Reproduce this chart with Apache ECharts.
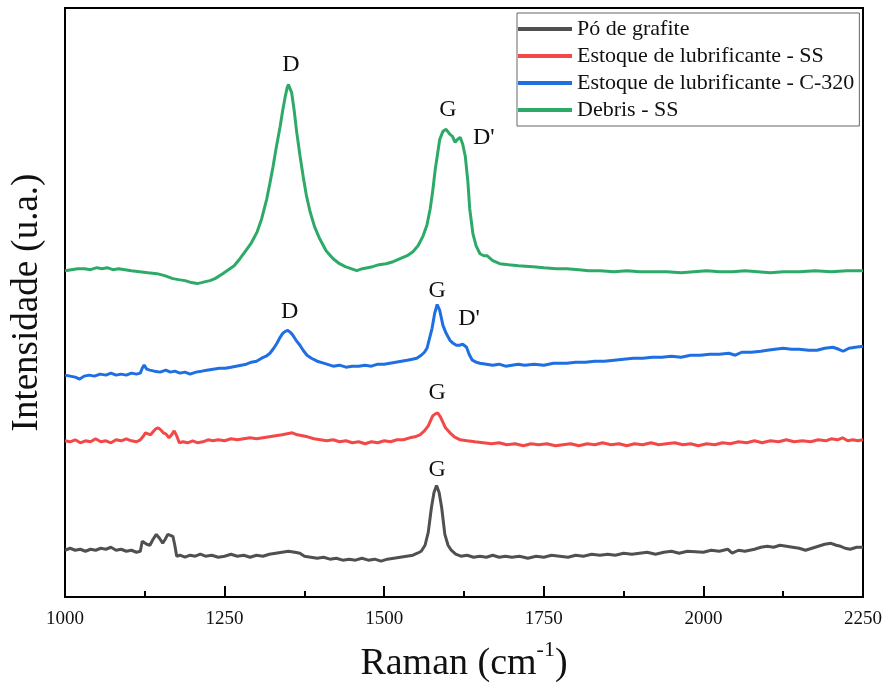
<!DOCTYPE html>
<html>
<head>
<meta charset="utf-8">
<script src="https://cdn.jsdelivr.net/npm/echarts@6/dist/echarts.min.js"></script>
<style>
  html, body { margin: 0; padding: 0; background: #fff; }
  #chart { width: 889px; height: 688px; }
</style>
</head>
<body>
<div id="chart"></div>
<script>
// Raman spectra: [Raman shift (cm-1), intensity (a.u., stacked offsets)]
const seriesNames = [
  'Pó de grafite',
  'Estoque de lubrificante - SS',
  'Estoque de lubrificante - C-320',
  'Debris - SS'
];
const seriesColors = ['#505050', '#f24848', '#1f6fe2', '#2eaa68'];

const poGrafite = [
  [1000,47],[1008,49],[1016,47],[1024,48],[1032,46],[1040,48],[1048,47],[1056,49],[1064,48],[1072,50],
  [1080,47],[1088,48],[1096,46],[1104,47],[1112,45],[1118,46],[1121,56],[1124,54],[1128,53],[1133,52],
  [1138,58],[1143,63],[1148,59],[1153,54],[1157,58],[1161,63],[1165,62],[1169,61],[1172,52],[1175,41],
  [1180,42],[1188,40],[1196,42],[1204,41],[1212,43],[1220,41],[1230,42],[1240,40],[1250,41],[1260,43],
  [1270,41],[1280,42],[1290,40],[1300,42],[1310,41],[1320,43],[1330,44],[1340,45],[1350,46],[1360,45],
  [1368,44],[1375,41],[1385,40],[1395,39],[1405,40],[1415,38],[1425,39],[1435,37],[1445,38],[1455,37],
  [1465,39],[1475,37],[1485,38],[1495,36],[1505,38],[1515,39],[1525,40],[1535,41],[1545,42],[1552,44],
  [1558,46],[1564,52],[1569,65],[1574,90],[1578,105],[1582,112],[1586,105],[1590,90],[1595,63],[1600,52],
  [1605,47],[1612,43],[1620,41],[1630,42],[1640,40],[1650,41],[1660,40],[1670,42],[1680,40],[1690,41],
  [1700,40],[1712,41],[1725,39],[1738,41],[1750,40],[1762,42],[1775,41],[1788,40],[1800,42],[1812,41],
  [1825,43],[1838,42],[1850,43],[1862,42],[1875,44],[1888,43],[1900,44],[1912,45],[1925,43],[1938,45],
  [1950,46],[1962,44],[1975,46],[2000,45],[2012,47],[2025,46],[2038,48],[2045,44],[2055,47],[2065,46],
  [2080,48],[2090,50],[2100,51],[2110,50],[2120,52],[2130,51],[2140,50],[2150,49],[2160,47],[2170,49],
  [2180,51],[2190,53],[2200,54],[2208,52],[2215,51],[2222,49],[2230,48],[2240,50],[2250,50]
];

const estoqueSS = [
  [1000,157],[1008,156],[1016,158],[1024,155],[1032,157],[1040,156],[1048,159],[1056,156],[1064,157],[1072,155],
  [1080,158],[1088,157],[1096,159],[1104,157],[1112,156],[1118,158],[1122,161],[1126,165],[1130,164],[1134,163],
  [1138,166],[1142,169],[1146,170],[1150,168],[1154,165],[1158,164],[1163,160],[1167,163],[1171,167],[1175,162],
  [1179,155],[1185,156],[1192,155],[1200,157],[1208,155],[1216,156],[1224,158],[1232,157],[1240,158],[1250,157],
  [1260,159],[1270,158],[1280,159],[1290,160],[1300,159],[1310,160],[1320,161],[1330,162],[1340,163],[1348,164],
  [1356,165],[1364,163],[1372,162],[1380,161],[1390,159],[1400,158],[1410,157],[1420,158],[1430,156],[1440,157],
  [1450,155],[1460,156],[1470,154],[1480,156],[1490,155],[1500,157],[1510,156],[1520,158],[1530,158],[1540,160],
  [1548,161],[1556,163],[1563,167],[1569,172],[1576,182],[1580,184],[1584,185],[1588,181],[1591,177],[1596,170],
  [1603,165],[1610,161],[1619,158],[1630,157],[1642,156],[1655,155],[1668,154],[1680,155],[1692,153],[1705,154],
  [1718,152],[1730,154],[1742,153],[1755,154],[1768,152],[1780,153],[1792,154],[1805,152],[1818,154],[1830,153],
  [1842,155],[1855,153],[1868,154],[1880,152],[1892,154],[1905,153],[1918,155],[1930,153],[1942,154],[1955,155],
  [1968,153],[1980,154],[1992,152],[2005,154],[2018,153],[2030,155],[2042,154],[2055,156],[2068,155],[2080,157],
  [2092,155],[2105,157],[2118,156],[2130,158],[2142,156],[2155,157],[2168,156],[2180,158],[2192,157],[2200,159],
  [2210,158],[2218,160],[2226,157],[2234,158],[2242,157],[2250,158]
];

const estoqueC320 = [
  [1000,223],[1008,222],[1016,221],[1023,219],[1030,222],[1038,223],[1046,222],[1055,224],[1064,223],[1072,225],
  [1080,223],[1088,224],[1096,223],[1104,225],[1112,224],[1118,225],[1121,230],[1124,233],[1128,229],[1133,228],
  [1140,227],[1149,226],[1158,228],[1165,226],[1172,227],[1180,225],[1188,226],[1196,224],[1205,226],[1214,227],
  [1222,228],[1232,229],[1242,230],[1251,230],[1260,231],[1268,232],[1276,233],[1284,234],[1292,236],[1300,237],
  [1308,240],[1315,242],[1321,245],[1327,250],[1332,255],[1337,261],[1341,265],[1345,267],[1349,268],[1353,266],
  [1357,263],[1362,258],[1368,253],[1373,248],[1379,243],[1386,240],[1395,237],[1405,235],[1420,232],[1430,233],
  [1440,231],[1450,232],[1460,232],[1470,233],[1480,232],[1490,234],[1500,234],[1509,235],[1518,236],[1527,237],
  [1536,238],[1544,239],[1551,240],[1558,243],[1563,246],[1567,250],[1571,260],[1575,270],[1579,285],[1583,294],
  [1587,288],[1592,273],[1597,265],[1603,258],[1608,255],[1613,253],[1618,253],[1623,254],[1626,254],[1629,251],
  [1633,244],[1638,238],[1644,236],[1650,235],[1660,234],[1670,233],[1680,234],[1690,232],[1700,233],[1710,234],
  [1720,233],[1735,234],[1750,233],[1765,235],[1786,235],[1800,236],[1815,236],[1830,237],[1845,237],[1860,238],
  [1875,239],[1890,240],[1905,240],[1920,241],[1935,241],[1950,242],[1965,241],[1980,243],[1995,243],[2010,244],
  [2025,244],[2040,245],[2050,243],[2060,246],[2075,246],[2090,247],[2100,248],[2112,249],[2125,250],[2138,249],
  [2150,249],[2165,248],[2178,248],[2190,250],[2203,251],[2212,249],[2219,247],[2228,250],[2238,251],[2250,252]
];

const debrisSS = [
  [1000,328],[1010,329],[1020,330],[1031,330],[1040,329],[1050,331],[1058,330],[1066,331],[1075,329],[1084,330],
  [1094,329],[1104,328],[1117,327],[1130,326],[1144,325],[1156,323],[1169,320],[1178,319],[1188,318],[1198,316],
  [1207,315],[1214,316],[1220,317],[1227,318],[1235,320],[1247,325],[1256,329],[1265,333],[1274,340],[1283,348],
  [1292,356],[1301,367],[1308,380],[1316,400],[1321,416],[1326,433],[1331,452],[1337,473],[1341,489],[1345,503],
  [1348,512],[1350,515],[1352,513],[1355,507],[1359,489],[1363,467],[1368,444],[1373,423],[1378,404],[1384,387],
  [1391,372],[1399,360],[1409,348],[1420,340],[1430,335],[1439,332],[1448,330],[1457,328],[1466,330],[1474,331],
  [1482,332],[1492,334],[1503,335],[1514,337],[1525,340],[1536,343],[1545,347],[1553,353],[1561,363],[1567,374],
  [1572,390],[1576,408],[1580,430],[1584,447],[1587,460],[1592,468],[1597,470],[1603,465],[1607,463],[1611,457],
  [1615,460],[1619,462],[1623,455],[1627,443],[1631,418],[1634,390],[1639,365],[1644,353],[1650,345],[1656,343],
  [1661,343],[1670,338],[1681,335],[1695,334],[1710,333],[1733,332],[1750,331],[1770,330],[1786,330],[1805,329],
  [1820,328],[1838,328],[1860,327],[1880,328],[1900,327],[1920,327],[1943,327],[1965,326],[1985,327],[2005,328],
  [2025,327],[2046,327],[2065,328],[2085,327],[2105,326],[2125,327],[2151,327],[2175,328],[2200,327],[2225,328],
  [2250,328]
];

// Band labels per series: [text, Raman shift, intensity]
const bandsPoGrafite = [['G', 1583, 128]];
const bandsEstoqueSS = [['G', 1583, 205]];
const bandsEstoqueC320 = [['D', 1352, 287], ['G', 1583, 308], ["D'", 1633, 280]];
const bandsDebrisSS = [['D', 1354, 535], ['G', 1600, 490], ["D'", 1656, 462]];

const xTicks = { min: 1000, max: 2250, interval: 250 };

const serif = 'Liberation Serif, Times New Roman, serif';
const allData = [poGrafite, estoqueSS, estoqueC320, debrisSS];
const allBands = [bandsPoGrafite, bandsEstoqueSS, bandsEstoqueC320, bandsDebrisSS];

const chart = echarts.init(document.getElementById('chart'), null, { renderer: 'canvas' });

chart.setOption({
  animation: false,
  backgroundColor: '#fff',
  grid: {
    left: 65, right: 26, top: 8, bottom: 88,
    show: true, borderColor: '#000', borderWidth: 2, backgroundColor: 'transparent'
  },
  legend: {
    data: seriesNames,
    orient: 'vertical',
    left: 517, top: 13,
    padding: [5, 5, 5, 1],
    itemGap: 5,
    itemWidth: 54, itemHeight: 4,
    icon: 'rect',
    borderColor: '#666', borderWidth: 1,
    backgroundColor: '#fff',
    textStyle: { fontFamily: serif, fontSize: 22, color: '#111', lineHeight: 22 }
  },
  xAxis: {
    type: 'value',
    min: xTicks.min, max: xTicks.max, interval: xTicks.interval,
    name: '{a|Raman (cm}{s|-1}{a|)}',
    nameLocation: 'middle',
    nameGap: 42,
    nameTextStyle: {
      rich: {
        a: { fontFamily: serif, fontSize: 38, color: '#111', verticalAlign: 'bottom', lineHeight: 44 },
        s: { fontFamily: serif, fontSize: 22, color: '#111', verticalAlign: 'top', lineHeight: 44, padding: [0, 0, 18, 0] }
      }
    },
    axisLine: { show: true, lineStyle: { color: '#000', width: 2 } },
    axisTick: { show: true, inside: true, length: 11, lineStyle: { color: '#000', width: 2 } },
    minorTick: { show: true, splitNumber: 2, length: 6, lineStyle: { color: '#000', width: 2 } },
    axisLabel: {
      fontFamily: serif, fontSize: 19, color: '#111', margin: 13,
      formatter: v => String(v)
    },
    splitLine: { show: false }
  },
  yAxis: {
    type: 'value',
    min: 0, max: 592,
    name: 'Intensidade (u.a.)',
    nameLocation: 'middle',
    nameGap: 19,
    nameTextStyle: { fontFamily: serif, fontSize: 37, color: '#111' },
    axisLine: { show: true, lineStyle: { color: '#000', width: 2 } },
    axisTick: { show: false },
    axisLabel: { show: false },
    splitLine: { show: false }
  },
  series: seriesNames.map((name, i) => ({
    name,
    type: 'line',
    data: allData[i],
    showSymbol: false,
    symbol: 'none',
    color: seriesColors[i],
    lineStyle: { width: 3, color: seriesColors[i] },
    z: 2 + i,
    markPoint: {
      symbol: 'circle',
      symbolSize: 1,
      itemStyle: { color: 'transparent' },
      label: { show: true, position: 'inside', fontFamily: serif, fontSize: 24, color: '#111' },
      data: allBands[i].map(b => ({ coord: [b[1], b[2]], value: b[0], label: { formatter: b[0] } }))
    }
  }))
});
</script>
</body>
</html>
